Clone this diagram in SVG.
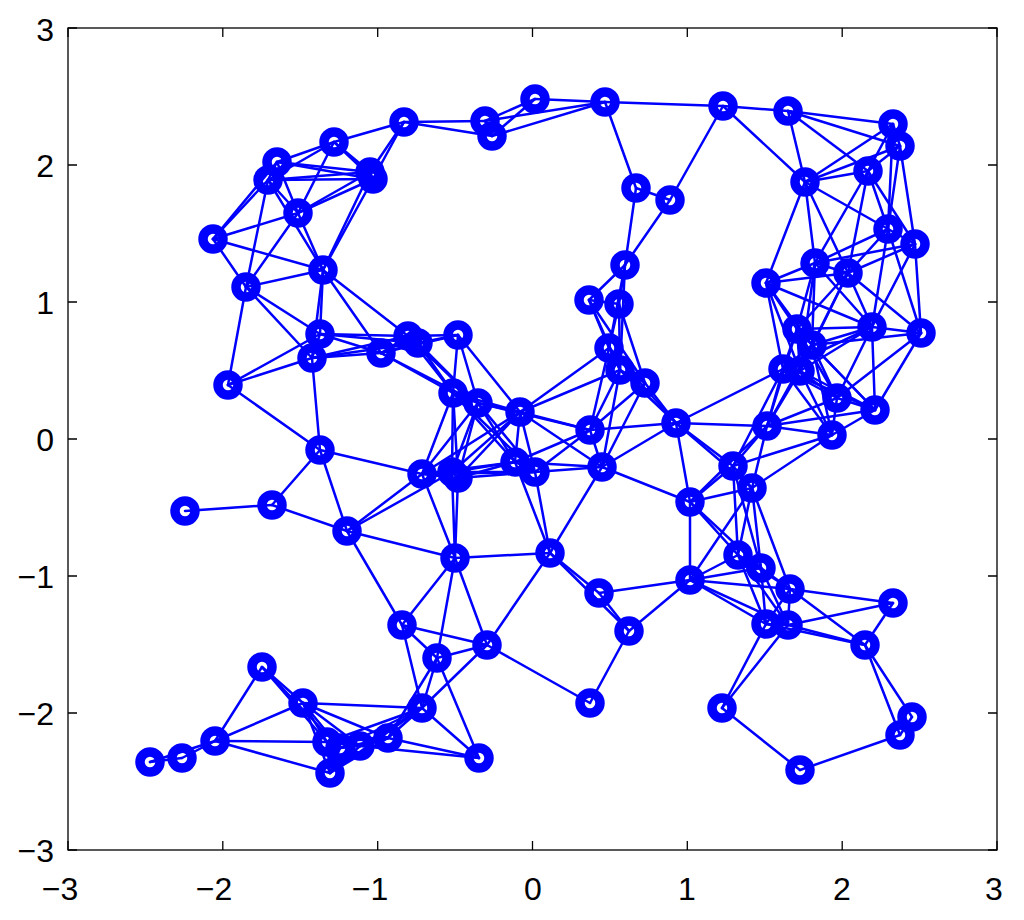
<svg xmlns="http://www.w3.org/2000/svg" width="1024" height="920" viewBox="0 0 1024 920">
<style>
.ax{fill:none;stroke:#000;stroke-width:1.3}
.tk{stroke:#000;stroke-width:1.3}
.lb{font-family:"Liberation Sans",Arial,sans-serif;font-size:32px;fill:#000}
.e line{stroke:#0000ff;stroke-width:2.5;stroke-linecap:round}
.n circle{fill:none;stroke:#0000ff;stroke-width:9.5}
</style>
<rect width="1024" height="920" fill="#fff"/>
<g id="axes">
<rect class="ax" x="68" y="28" width="929" height="822"/>
<path class="tk" d="M68,850v-9M222.8,850v-9M377.7,850v-9M532.5,850v-9M687.3,850v-9M842.2,850v-9M997,850v-9M68,28v9M222.8,28v9M377.7,28v9M532.5,28v9M687.3,28v9M842.2,28v9M997,28v9M68,28h9M68,165h9M68,302h9M68,439h9M68,576h9M68,713h9M68,850h9M997,28h-9M997,165h-9M997,302h-9M997,439h-9M997,576h-9M997,713h-9M997,850h-9"/>
<g class="lb" text-anchor="end">
<text x="54" y="41">3</text><text x="54" y="177">2</text><text x="54" y="314">1</text><text x="54" y="451">0</text><text x="54" y="588">−1</text><text x="54" y="725">−2</text><text x="54" y="862">−3</text>
</g>
<g class="lb" text-anchor="middle">
<text x="60" y="900">−3</text><text x="214" y="900">−2</text><text x="370" y="900">−1</text><text x="533" y="900">0</text><text x="687" y="900">1</text><text x="842" y="900">2</text><text x="994" y="900">3</text>
</g>
</g>
<g id="connectors" class="e">
<line x1="404" y1="122" x2="485" y2="121"/><line x1="404" y1="122" x2="492" y2="136"/><line x1="404" y1="122" x2="334" y2="142"/><line x1="404" y1="122" x2="370" y2="172"/><line x1="404" y1="122" x2="373" y2="179"/>
<line x1="485" y1="121" x2="492" y2="136"/><line x1="485" y1="121" x2="535" y2="99"/><line x1="485" y1="121" x2="605" y2="102"/>
<line x1="492" y1="136" x2="535" y2="99"/><line x1="492" y1="136" x2="605" y2="102"/>
<line x1="535" y1="99" x2="605" y2="102"/>
<line x1="605" y1="102" x2="636" y2="188"/><line x1="605" y1="102" x2="723" y2="106"/>
<line x1="334" y1="142" x2="277" y2="162"/><line x1="334" y1="142" x2="268" y2="180"/><line x1="334" y1="142" x2="370" y2="172"/><line x1="334" y1="142" x2="373" y2="179"/><line x1="334" y1="142" x2="298" y2="213"/>
<line x1="277" y1="162" x2="268" y2="180"/><line x1="277" y1="162" x2="370" y2="172"/><line x1="277" y1="162" x2="373" y2="179"/><line x1="277" y1="162" x2="298" y2="213"/><line x1="277" y1="162" x2="213" y2="239"/>
<line x1="268" y1="180" x2="370" y2="172"/><line x1="268" y1="180" x2="373" y2="179"/><line x1="268" y1="180" x2="298" y2="213"/><line x1="268" y1="180" x2="213" y2="239"/><line x1="268" y1="180" x2="246" y2="287"/><line x1="268" y1="180" x2="323" y2="270"/>
<line x1="370" y1="172" x2="373" y2="179"/><line x1="370" y1="172" x2="298" y2="213"/><line x1="370" y1="172" x2="323" y2="270"/>
<line x1="373" y1="179" x2="298" y2="213"/><line x1="373" y1="179" x2="323" y2="270"/>
<line x1="298" y1="213" x2="213" y2="239"/><line x1="298" y1="213" x2="246" y2="287"/><line x1="298" y1="213" x2="323" y2="270"/>
<line x1="213" y1="239" x2="246" y2="287"/><line x1="213" y1="239" x2="323" y2="270"/>
<line x1="246" y1="287" x2="323" y2="270"/><line x1="246" y1="287" x2="320" y2="334"/><line x1="246" y1="287" x2="312" y2="358"/><line x1="246" y1="287" x2="228" y2="385"/>
<line x1="323" y1="270" x2="320" y2="334"/><line x1="323" y1="270" x2="312" y2="358"/><line x1="323" y1="270" x2="381" y2="353"/><line x1="323" y1="270" x2="408" y2="336"/>
<line x1="320" y1="334" x2="312" y2="358"/><line x1="320" y1="334" x2="228" y2="385"/><line x1="320" y1="334" x2="381" y2="353"/><line x1="320" y1="334" x2="408" y2="336"/><line x1="320" y1="334" x2="418" y2="343"/>
<line x1="312" y1="358" x2="228" y2="385"/><line x1="312" y1="358" x2="381" y2="353"/><line x1="312" y1="358" x2="408" y2="336"/><line x1="312" y1="358" x2="418" y2="343"/><line x1="312" y1="358" x2="320" y2="450"/>
<line x1="228" y1="385" x2="320" y2="450"/>
<line x1="381" y1="353" x2="408" y2="336"/><line x1="381" y1="353" x2="418" y2="343"/><line x1="381" y1="353" x2="458" y2="335"/><line x1="381" y1="353" x2="453" y2="393"/><line x1="381" y1="353" x2="478" y2="403"/>
<line x1="408" y1="336" x2="418" y2="343"/><line x1="408" y1="336" x2="458" y2="335"/><line x1="408" y1="336" x2="453" y2="393"/><line x1="408" y1="336" x2="478" y2="403"/>
<line x1="418" y1="343" x2="458" y2="335"/><line x1="418" y1="343" x2="453" y2="393"/><line x1="418" y1="343" x2="478" y2="403"/>
<line x1="458" y1="335" x2="453" y2="393"/><line x1="458" y1="335" x2="478" y2="403"/><line x1="458" y1="335" x2="520" y2="412"/>
<line x1="320" y1="450" x2="272" y2="505"/><line x1="320" y1="450" x2="347" y2="531"/><line x1="320" y1="450" x2="422" y2="474"/>
<line x1="272" y1="505" x2="185" y2="511"/><line x1="272" y1="505" x2="347" y2="531"/>
<line x1="347" y1="531" x2="422" y2="474"/><line x1="347" y1="531" x2="452" y2="472"/><line x1="347" y1="531" x2="455" y2="558"/><line x1="347" y1="531" x2="402" y2="625"/>
<line x1="453" y1="393" x2="478" y2="403"/><line x1="453" y1="393" x2="520" y2="412"/><line x1="453" y1="393" x2="422" y2="474"/><line x1="453" y1="393" x2="452" y2="472"/><line x1="453" y1="393" x2="458" y2="478"/><line x1="453" y1="393" x2="515" y2="462"/><line x1="453" y1="393" x2="535" y2="472"/>
<line x1="478" y1="403" x2="520" y2="412"/><line x1="478" y1="403" x2="422" y2="474"/><line x1="478" y1="403" x2="452" y2="472"/><line x1="478" y1="403" x2="458" y2="478"/><line x1="478" y1="403" x2="515" y2="462"/><line x1="478" y1="403" x2="535" y2="472"/><line x1="478" y1="403" x2="590" y2="430"/>
<line x1="520" y1="412" x2="422" y2="474"/><line x1="520" y1="412" x2="452" y2="472"/><line x1="520" y1="412" x2="458" y2="478"/><line x1="520" y1="412" x2="515" y2="462"/><line x1="520" y1="412" x2="535" y2="472"/><line x1="520" y1="412" x2="590" y2="430"/><line x1="520" y1="412" x2="602" y2="467"/><line x1="520" y1="412" x2="609" y2="348"/><line x1="520" y1="412" x2="620" y2="370"/>
<line x1="422" y1="474" x2="452" y2="472"/><line x1="422" y1="474" x2="458" y2="478"/><line x1="422" y1="474" x2="515" y2="462"/><line x1="422" y1="474" x2="535" y2="472"/><line x1="422" y1="474" x2="455" y2="558"/>
<line x1="452" y1="472" x2="458" y2="478"/><line x1="452" y1="472" x2="515" y2="462"/><line x1="452" y1="472" x2="535" y2="472"/><line x1="452" y1="472" x2="455" y2="558"/>
<line x1="458" y1="478" x2="515" y2="462"/><line x1="458" y1="478" x2="535" y2="472"/><line x1="458" y1="478" x2="455" y2="558"/>
<line x1="515" y1="462" x2="535" y2="472"/><line x1="515" y1="462" x2="590" y2="430"/><line x1="515" y1="462" x2="602" y2="467"/><line x1="515" y1="462" x2="550" y2="553"/>
<line x1="535" y1="472" x2="590" y2="430"/><line x1="535" y1="472" x2="602" y2="467"/><line x1="535" y1="472" x2="550" y2="553"/>
<line x1="590" y1="430" x2="602" y2="467"/><line x1="590" y1="430" x2="609" y2="348"/><line x1="590" y1="430" x2="620" y2="370"/><line x1="590" y1="430" x2="645" y2="383"/><line x1="590" y1="430" x2="676" y2="423"/>
<line x1="602" y1="467" x2="550" y2="553"/><line x1="602" y1="467" x2="620" y2="370"/><line x1="602" y1="467" x2="645" y2="383"/><line x1="602" y1="467" x2="676" y2="423"/><line x1="602" y1="467" x2="690" y2="502"/>
<line x1="455" y1="558" x2="550" y2="553"/><line x1="455" y1="558" x2="402" y2="625"/><line x1="455" y1="558" x2="437" y2="658"/><line x1="455" y1="558" x2="487" y2="645"/>
<line x1="550" y1="553" x2="599" y2="593"/><line x1="550" y1="553" x2="629" y2="631"/><line x1="550" y1="553" x2="487" y2="645"/>
<line x1="636" y1="188" x2="670" y2="200"/><line x1="636" y1="188" x2="625" y2="265"/>
<line x1="670" y1="200" x2="625" y2="265"/><line x1="670" y1="200" x2="723" y2="106"/>
<line x1="625" y1="265" x2="589" y2="300"/><line x1="625" y1="265" x2="619" y2="304"/><line x1="625" y1="265" x2="609" y2="348"/><line x1="625" y1="265" x2="620" y2="370"/>
<line x1="589" y1="300" x2="619" y2="304"/><line x1="589" y1="300" x2="609" y2="348"/><line x1="589" y1="300" x2="620" y2="370"/><line x1="589" y1="300" x2="645" y2="383"/>
<line x1="619" y1="304" x2="609" y2="348"/><line x1="619" y1="304" x2="620" y2="370"/><line x1="619" y1="304" x2="645" y2="383"/>
<line x1="609" y1="348" x2="620" y2="370"/><line x1="609" y1="348" x2="645" y2="383"/><line x1="609" y1="348" x2="676" y2="423"/>
<line x1="620" y1="370" x2="645" y2="383"/><line x1="620" y1="370" x2="676" y2="423"/>
<line x1="645" y1="383" x2="676" y2="423"/>
<line x1="676" y1="423" x2="767" y2="426"/><line x1="676" y1="423" x2="733" y2="466"/><line x1="676" y1="423" x2="752" y2="488"/><line x1="676" y1="423" x2="690" y2="502"/><line x1="676" y1="423" x2="783" y2="369"/>
<line x1="723" y1="106" x2="788" y2="111"/><line x1="723" y1="106" x2="805" y2="182"/>
<line x1="788" y1="111" x2="893" y2="124"/><line x1="788" y1="111" x2="900" y2="146"/><line x1="788" y1="111" x2="805" y2="182"/><line x1="788" y1="111" x2="868" y2="171"/>
<line x1="893" y1="124" x2="900" y2="146"/><line x1="893" y1="124" x2="805" y2="182"/><line x1="893" y1="124" x2="868" y2="171"/><line x1="893" y1="124" x2="888" y2="229"/>
<line x1="900" y1="146" x2="805" y2="182"/><line x1="900" y1="146" x2="868" y2="171"/><line x1="900" y1="146" x2="888" y2="229"/><line x1="900" y1="146" x2="915" y2="244"/>
<line x1="805" y1="182" x2="868" y2="171"/><line x1="805" y1="182" x2="888" y2="229"/><line x1="805" y1="182" x2="766" y2="283"/><line x1="805" y1="182" x2="815" y2="263"/><line x1="805" y1="182" x2="848" y2="273"/>
<line x1="868" y1="171" x2="888" y2="229"/><line x1="868" y1="171" x2="915" y2="244"/><line x1="868" y1="171" x2="815" y2="263"/><line x1="868" y1="171" x2="848" y2="273"/>
<line x1="888" y1="229" x2="915" y2="244"/><line x1="888" y1="229" x2="815" y2="263"/><line x1="888" y1="229" x2="848" y2="273"/><line x1="888" y1="229" x2="872" y2="327"/><line x1="888" y1="229" x2="921" y2="333"/>
<line x1="915" y1="244" x2="815" y2="263"/><line x1="915" y1="244" x2="848" y2="273"/><line x1="915" y1="244" x2="872" y2="327"/><line x1="915" y1="244" x2="921" y2="333"/>
<line x1="766" y1="283" x2="815" y2="263"/><line x1="766" y1="283" x2="848" y2="273"/><line x1="766" y1="283" x2="797" y2="329"/><line x1="766" y1="283" x2="812" y2="345"/><line x1="766" y1="283" x2="872" y2="327"/><line x1="766" y1="283" x2="783" y2="369"/><line x1="766" y1="283" x2="800" y2="371"/>
<line x1="815" y1="263" x2="848" y2="273"/><line x1="815" y1="263" x2="797" y2="329"/><line x1="815" y1="263" x2="812" y2="345"/><line x1="815" y1="263" x2="872" y2="327"/><line x1="815" y1="263" x2="800" y2="371"/>
<line x1="848" y1="273" x2="797" y2="329"/><line x1="848" y1="273" x2="812" y2="345"/><line x1="848" y1="273" x2="872" y2="327"/><line x1="848" y1="273" x2="921" y2="333"/><line x1="848" y1="273" x2="800" y2="371"/>
<line x1="797" y1="329" x2="812" y2="345"/><line x1="797" y1="329" x2="872" y2="327"/><line x1="797" y1="329" x2="783" y2="369"/><line x1="797" y1="329" x2="800" y2="371"/><line x1="797" y1="329" x2="837" y2="398"/><line x1="797" y1="329" x2="875" y2="410"/><line x1="797" y1="329" x2="767" y2="426"/>
<line x1="812" y1="345" x2="872" y2="327"/><line x1="812" y1="345" x2="921" y2="333"/><line x1="812" y1="345" x2="783" y2="369"/><line x1="812" y1="345" x2="800" y2="371"/><line x1="812" y1="345" x2="837" y2="398"/><line x1="812" y1="345" x2="875" y2="410"/><line x1="812" y1="345" x2="832" y2="435"/><line x1="812" y1="345" x2="767" y2="426"/>
<line x1="872" y1="327" x2="921" y2="333"/><line x1="872" y1="327" x2="783" y2="369"/><line x1="872" y1="327" x2="800" y2="371"/><line x1="872" y1="327" x2="837" y2="398"/><line x1="872" y1="327" x2="875" y2="410"/>
<line x1="921" y1="333" x2="837" y2="398"/><line x1="921" y1="333" x2="875" y2="410"/>
<line x1="783" y1="369" x2="800" y2="371"/><line x1="783" y1="369" x2="837" y2="398"/><line x1="783" y1="369" x2="875" y2="410"/><line x1="783" y1="369" x2="832" y2="435"/><line x1="783" y1="369" x2="767" y2="426"/><line x1="783" y1="369" x2="733" y2="466"/>
<line x1="800" y1="371" x2="837" y2="398"/><line x1="800" y1="371" x2="875" y2="410"/><line x1="800" y1="371" x2="832" y2="435"/><line x1="800" y1="371" x2="767" y2="426"/>
<line x1="837" y1="398" x2="875" y2="410"/><line x1="837" y1="398" x2="832" y2="435"/><line x1="837" y1="398" x2="767" y2="426"/>
<line x1="875" y1="410" x2="832" y2="435"/><line x1="875" y1="410" x2="767" y2="426"/>
<line x1="832" y1="435" x2="767" y2="426"/><line x1="832" y1="435" x2="733" y2="466"/><line x1="832" y1="435" x2="752" y2="488"/>
<line x1="767" y1="426" x2="733" y2="466"/><line x1="767" y1="426" x2="752" y2="488"/><line x1="767" y1="426" x2="690" y2="502"/>
<line x1="733" y1="466" x2="752" y2="488"/><line x1="733" y1="466" x2="690" y2="502"/><line x1="733" y1="466" x2="738" y2="555"/><line x1="733" y1="466" x2="761" y2="568"/>
<line x1="752" y1="488" x2="690" y2="502"/><line x1="752" y1="488" x2="690" y2="580"/><line x1="752" y1="488" x2="738" y2="555"/><line x1="752" y1="488" x2="761" y2="568"/><line x1="752" y1="488" x2="790" y2="589"/>
<line x1="690" y1="502" x2="690" y2="580"/><line x1="690" y1="502" x2="738" y2="555"/><line x1="690" y1="502" x2="761" y2="568"/>
<line x1="690" y1="580" x2="599" y2="593"/><line x1="690" y1="580" x2="629" y2="631"/><line x1="690" y1="580" x2="738" y2="555"/><line x1="690" y1="580" x2="761" y2="568"/><line x1="690" y1="580" x2="790" y2="589"/><line x1="690" y1="580" x2="766" y2="624"/><line x1="690" y1="580" x2="788" y2="625"/>
<line x1="599" y1="593" x2="629" y2="631"/>
<line x1="629" y1="631" x2="590" y2="703"/>
<line x1="590" y1="703" x2="487" y2="645"/>
<line x1="738" y1="555" x2="761" y2="568"/><line x1="738" y1="555" x2="790" y2="589"/><line x1="738" y1="555" x2="766" y2="624"/><line x1="738" y1="555" x2="788" y2="625"/>
<line x1="761" y1="568" x2="790" y2="589"/><line x1="761" y1="568" x2="766" y2="624"/><line x1="761" y1="568" x2="788" y2="625"/>
<line x1="790" y1="589" x2="893" y2="603"/><line x1="790" y1="589" x2="766" y2="624"/><line x1="790" y1="589" x2="788" y2="625"/><line x1="790" y1="589" x2="865" y2="645"/>
<line x1="893" y1="603" x2="788" y2="625"/><line x1="893" y1="603" x2="865" y2="645"/>
<line x1="766" y1="624" x2="788" y2="625"/><line x1="766" y1="624" x2="865" y2="645"/><line x1="766" y1="624" x2="722" y2="708"/>
<line x1="788" y1="625" x2="865" y2="645"/><line x1="788" y1="625" x2="722" y2="708"/>
<line x1="865" y1="645" x2="912" y2="717"/><line x1="865" y1="645" x2="900" y2="735"/>
<line x1="722" y1="708" x2="800" y2="770"/>
<line x1="912" y1="717" x2="900" y2="735"/>
<line x1="900" y1="735" x2="800" y2="770"/>
<line x1="402" y1="625" x2="437" y2="658"/><line x1="402" y1="625" x2="487" y2="645"/><line x1="402" y1="625" x2="422" y2="708"/>
<line x1="437" y1="658" x2="487" y2="645"/><line x1="437" y1="658" x2="422" y2="708"/><line x1="437" y1="658" x2="479" y2="758"/><line x1="437" y1="658" x2="388" y2="738"/>
<line x1="487" y1="645" x2="422" y2="708"/>
<line x1="422" y1="708" x2="479" y2="758"/><line x1="422" y1="708" x2="303" y2="703"/><line x1="422" y1="708" x2="327" y2="742"/><line x1="422" y1="708" x2="340" y2="748"/><line x1="422" y1="708" x2="360" y2="746"/><line x1="422" y1="708" x2="388" y2="738"/><line x1="422" y1="708" x2="330" y2="773"/>
<line x1="479" y1="758" x2="360" y2="746"/><line x1="479" y1="758" x2="388" y2="738"/>
<line x1="262" y1="667" x2="303" y2="703"/><line x1="262" y1="667" x2="215" y2="741"/><line x1="262" y1="667" x2="327" y2="742"/><line x1="262" y1="667" x2="340" y2="748"/>
<line x1="303" y1="703" x2="215" y2="741"/><line x1="303" y1="703" x2="327" y2="742"/><line x1="303" y1="703" x2="340" y2="748"/><line x1="303" y1="703" x2="360" y2="746"/><line x1="303" y1="703" x2="388" y2="738"/><line x1="303" y1="703" x2="330" y2="773"/>
<line x1="215" y1="741" x2="182" y2="758"/><line x1="215" y1="741" x2="150" y2="762"/><line x1="215" y1="741" x2="327" y2="742"/><line x1="215" y1="741" x2="330" y2="773"/>
<line x1="182" y1="758" x2="150" y2="762"/>
<line x1="327" y1="742" x2="340" y2="748"/><line x1="327" y1="742" x2="360" y2="746"/><line x1="327" y1="742" x2="388" y2="738"/><line x1="327" y1="742" x2="330" y2="773"/>
<line x1="340" y1="748" x2="360" y2="746"/><line x1="340" y1="748" x2="388" y2="738"/><line x1="340" y1="748" x2="330" y2="773"/>
<line x1="360" y1="746" x2="388" y2="738"/><line x1="360" y1="746" x2="330" y2="773"/>
<line x1="388" y1="738" x2="330" y2="773"/>
</g>
<g class="n">
<g id="a1"><circle cx="404" cy="122" r="10"/></g>
<g id="a2"><circle cx="485" cy="121" r="10"/></g>
<g id="a3"><circle cx="492" cy="136" r="10"/></g>
<g id="a4"><circle cx="535" cy="99" r="10"/></g>
<g id="a5"><circle cx="605" cy="102" r="10"/></g>
<g id="a6"><circle cx="334" cy="142" r="10"/></g>
<g id="a7"><circle cx="277" cy="162" r="10"/></g>
<g id="a8"><circle cx="268" cy="180" r="10"/></g>
<g id="a9"><circle cx="370" cy="172" r="10"/></g>
<g id="a10"><circle cx="373" cy="179" r="10"/></g>
<g id="a11"><circle cx="298" cy="213" r="10"/></g>
<g id="a12"><circle cx="213" cy="239" r="10"/></g>
<g id="a13"><circle cx="246" cy="287" r="10"/></g>
<g id="a14"><circle cx="323" cy="270" r="10"/></g>
<g id="a15"><circle cx="320" cy="334" r="10"/></g>
<g id="a16"><circle cx="312" cy="358" r="10"/></g>
<g id="a17"><circle cx="228" cy="385" r="10"/></g>
<g id="a18"><circle cx="381" cy="353" r="10"/></g>
<g id="a19"><circle cx="408" cy="336" r="10"/></g>
<g id="a20"><circle cx="418" cy="343" r="10"/></g>
<g id="a21"><circle cx="458" cy="335" r="10"/></g>
<g id="b1"><circle cx="320" cy="450" r="10"/></g>
<g id="b2"><circle cx="272" cy="505" r="10"/></g>
<g id="b3"><circle cx="185" cy="511" r="10"/></g>
<g id="b4"><circle cx="347" cy="531" r="10"/></g>
<g id="b5"><circle cx="453" cy="393" r="10"/></g>
<g id="b6"><circle cx="478" cy="403" r="10"/></g>
<g id="b7"><circle cx="520" cy="412" r="10"/></g>
<g id="b8"><circle cx="422" cy="474" r="10"/></g>
<g id="b9"><circle cx="452" cy="472" r="10"/></g>
<g id="b10"><circle cx="458" cy="478" r="10"/></g>
<g id="b11"><circle cx="515" cy="462" r="10"/></g>
<g id="b12"><circle cx="535" cy="472" r="10"/></g>
<g id="b13"><circle cx="590" cy="430" r="10"/></g>
<g id="b14"><circle cx="602" cy="467" r="10"/></g>
<g id="b15"><circle cx="455" cy="558" r="10"/></g>
<g id="b16"><circle cx="550" cy="553" r="10"/></g>
<g id="c1"><circle cx="636" cy="188" r="10"/></g>
<g id="c2"><circle cx="670" cy="200" r="10"/></g>
<g id="c3"><circle cx="625" cy="265" r="10"/></g>
<g id="c4"><circle cx="589" cy="300" r="10"/></g>
<g id="c5"><circle cx="619" cy="304" r="10"/></g>
<g id="c6"><circle cx="609" cy="348" r="10"/></g>
<g id="c7"><circle cx="620" cy="370" r="10"/></g>
<g id="c8"><circle cx="645" cy="383" r="10"/></g>
<g id="c9"><circle cx="676" cy="423" r="10"/></g>
<g id="c10"><circle cx="723" cy="106" r="10"/></g>
<g id="c11"><circle cx="788" cy="111" r="10"/></g>
<g id="d1"><circle cx="893" cy="124" r="10"/></g>
<g id="d2"><circle cx="900" cy="146" r="10"/></g>
<g id="d3"><circle cx="805" cy="182" r="10"/></g>
<g id="d4"><circle cx="868" cy="171" r="10"/></g>
<g id="d5"><circle cx="888" cy="229" r="10"/></g>
<g id="d6"><circle cx="915" cy="244" r="10"/></g>
<g id="d7"><circle cx="766" cy="283" r="10"/></g>
<g id="d8"><circle cx="815" cy="263" r="10"/></g>
<g id="d9"><circle cx="848" cy="273" r="10"/></g>
<g id="d10"><circle cx="797" cy="329" r="10"/></g>
<g id="d11"><circle cx="812" cy="345" r="10"/></g>
<g id="d12"><circle cx="872" cy="327" r="10"/></g>
<g id="d13"><circle cx="921" cy="333" r="10"/></g>
<g id="d14"><circle cx="783" cy="369" r="10"/></g>
<g id="d15"><circle cx="800" cy="371" r="10"/></g>
<g id="d16"><circle cx="837" cy="398" r="10"/></g>
<g id="d17"><circle cx="875" cy="410" r="10"/></g>
<g id="d18"><circle cx="832" cy="435" r="10"/></g>
<g id="d19"><circle cx="767" cy="426" r="10"/></g>
<g id="e1"><circle cx="733" cy="466" r="10"/></g>
<g id="e2"><circle cx="752" cy="488" r="10"/></g>
<g id="e3"><circle cx="690" cy="502" r="10"/></g>
<g id="e4"><circle cx="690" cy="580" r="10"/></g>
<g id="e5"><circle cx="599" cy="593" r="10"/></g>
<g id="e6"><circle cx="629" cy="631" r="10"/></g>
<g id="e7"><circle cx="590" cy="703" r="10"/></g>
<g id="e8"><circle cx="738" cy="555" r="10"/></g>
<g id="e9"><circle cx="761" cy="568" r="10"/></g>
<g id="e10"><circle cx="790" cy="589" r="10"/></g>
<g id="e11"><circle cx="893" cy="603" r="10"/></g>
<g id="e12"><circle cx="766" cy="624" r="10"/></g>
<g id="e13"><circle cx="788" cy="625" r="10"/></g>
<g id="e14"><circle cx="865" cy="645" r="10"/></g>
<g id="e15"><circle cx="722" cy="708" r="10"/></g>
<g id="e16"><circle cx="912" cy="717" r="10"/></g>
<g id="e17"><circle cx="900" cy="735" r="10"/></g>
<g id="e18"><circle cx="800" cy="770" r="10"/></g>
<g id="f1"><circle cx="402" cy="625" r="10"/></g>
<g id="f2"><circle cx="437" cy="658" r="10"/></g>
<g id="f3"><circle cx="487" cy="645" r="10"/></g>
<g id="f4"><circle cx="422" cy="708" r="10"/></g>
<g id="f5"><circle cx="479" cy="758" r="10"/></g>
<g id="f6"><circle cx="262" cy="667" r="10"/></g>
<g id="f7"><circle cx="303" cy="703" r="10"/></g>
<g id="f8"><circle cx="215" cy="741" r="10"/></g>
<g id="f9"><circle cx="182" cy="758" r="10"/></g>
<g id="f10"><circle cx="150" cy="762" r="10"/></g>
<g id="f11"><circle cx="327" cy="742" r="10"/></g>
<g id="f12"><circle cx="340" cy="748" r="10"/></g>
<g id="f13"><circle cx="360" cy="746" r="10"/></g>
<g id="f14"><circle cx="388" cy="738" r="10"/></g>
<g id="f15"><circle cx="330" cy="773" r="10"/></g>
</g>
</svg>
